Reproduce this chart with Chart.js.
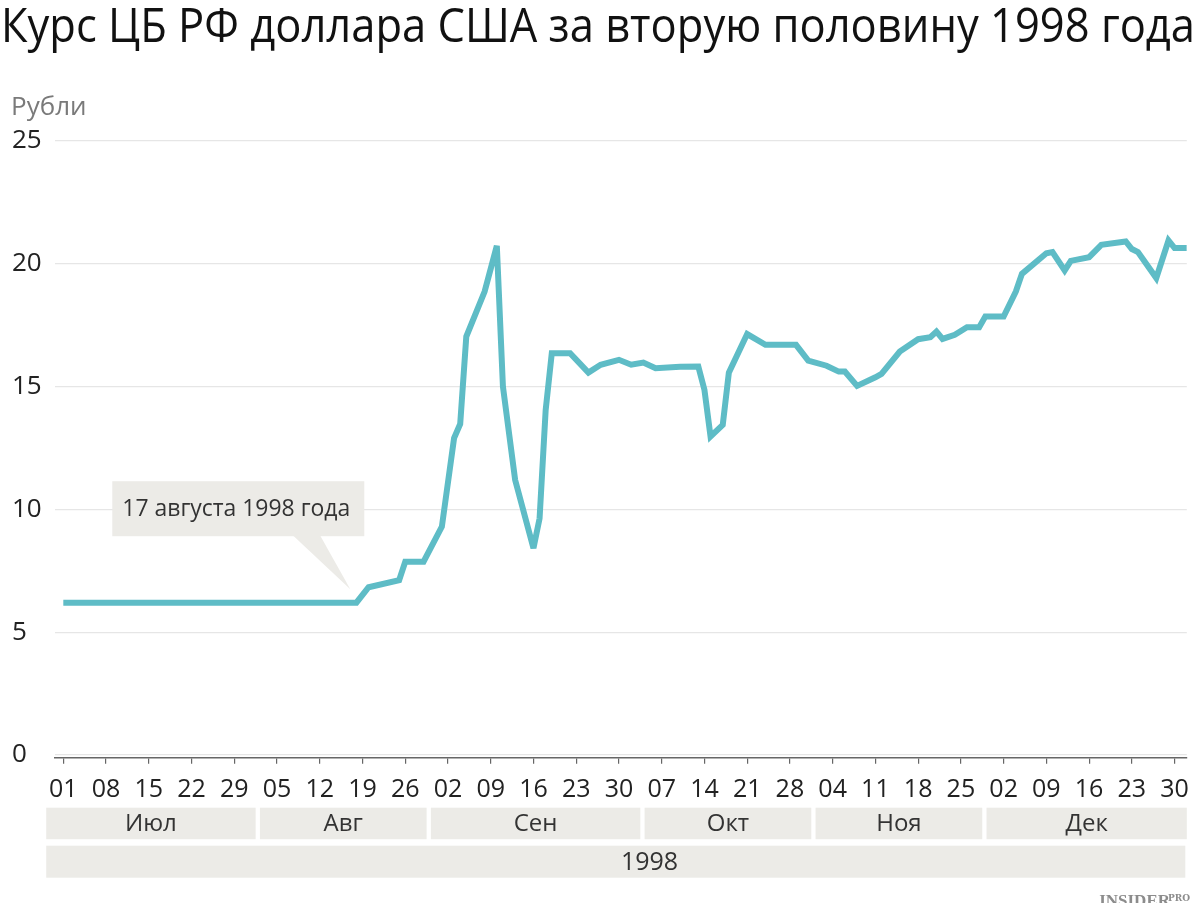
<!DOCTYPE html>
<html lang="ru">
<head>
<meta charset="utf-8">
<title>Курс ЦБ РФ доллара США за вторую половину 1998 года</title>
<script src="https://cdn.jsdelivr.net/npm/chart.js@4.4.1/dist/chart.umd.min.js"></script>
<style>
  html, body { margin: 0; padding: 0; background: #fff; }
  #wrap { width: 1200px; height: 903px; position: relative; }
</style>
</head>
<body>
<div id="wrap"><canvas id="myChart"></canvas></div>
<script>
const chartTitle = 'Курс ЦБ РФ доллара США за вторую половину 1998 года';
const unitLabel = 'Рубли';
const calloutText = '17 августа 1998 года';
const calloutDay = 47;      // 17.08.1998
const calloutValue = 6.75;

// day index from 01.07.1998 (0) to 01.01.1999 (184)
const days = [0, 7, 14, 21, 28, 35, 42, 48, 50, 55, 56, 59, 62, 64, 65, 66, 69, 71, 72, 74,
  77, 78, 79, 80, 83, 86, 88, 91, 93, 95, 97, 101, 104, 105, 106, 108, 109, 112, 115, 120,
  122, 125, 127, 128, 130, 133, 134, 137, 140, 142, 143, 144, 146, 148, 150, 151, 154, 156, 157, 161,
  162, 164, 165, 168, 170, 174, 175, 176, 179, 181, 182, 184];
const rates = [6.2, 6.2, 6.2, 6.2, 6.2, 6.2, 6.2, 6.2, 6.83, 7.12, 7.87, 7.87, 9.3, 12.9, 13.48, 17.04, 18.87, 20.73, 15.0, 11.2,
  8.42, 9.63, 14.05, 16.36, 16.36, 15.57, 15.89, 16.09, 15.89, 15.98, 15.75, 15.81, 15.82, 14.87, 12.97, 13.44, 15.57, 17.14, 16.7, 16.7,
  16.06, 15.85, 15.61, 15.61, 15.03, 15.38, 15.52, 16.43, 16.93, 17.01, 17.24, 16.94, 17.11, 17.42, 17.42, 17.85, 17.85, 18.87, 19.59, 20.43,
  20.48, 19.73, 20.12, 20.27, 20.77, 20.91, 20.6, 20.48, 19.42, 20.95, 20.64, 20.64];

const tickDays = [0, 7, 14, 21, 28, 35, 42, 49, 56, 63, 70, 77, 84, 91, 98, 105, 112, 119, 126, 133, 140, 147, 154, 161, 168, 175, 182];
const tickLabels = ['01', '08', '15', '22', '29', '05', '12', '19', '26', '02', '09', '16', '23', '30', '07', '14', '21', '28', '04', '11', '18', '25', '02', '09', '16', '23', '30'];
const months = ['Июл', 'Авг', 'Сен', 'Окт', 'Ноя', 'Дек'];
const monthTickCount = [5, 4, 5, 4, 4, 5];
const yearLabel = '1998';
const yTicks = [0, 5, 10, 15, 20, 25];

const lineColor = '#5ebcc6';
const bandColor = '#ecebe7';
const fontFamily = '"Open Sans", "Noto Sans", sans-serif';

Chart.defaults.font.family = fontFamily;

const decorPlugin = {
    id: 'decor',
    beforeDatasetsDraw(chart) {
        const ctx = chart.ctx;
        const xs = chart.scales.x, ys = chart.scales.y;
        const px = xs.getPixelForValue(calloutDay);
        const py = ys.getPixelForValue(calloutValue);
        ctx.save();
        ctx.fillStyle = bandColor;
        ctx.fillRect(px - 238, py - 108, 252, 55);
        ctx.beginPath();
        ctx.moveTo(px - 57, py - 53.5);
        ctx.lineTo(px - 30, py - 53.5);
        ctx.lineTo(px, py);
        ctx.closePath();
        ctx.fill();
        ctx.fillStyle = '#333';
        ctx.font = '24px ' + fontFamily;
        ctx.textAlign = 'center';
        ctx.textBaseline = 'middle';
        ctx.fillText(calloutText, px - 114, py - 80, 228);
        ctx.restore();
        // sharp corners, but not endless spikes
        ctx.miterLimit = 4;
    },
    afterDraw(chart) {
        const ctx = chart.ctx;
        const xs = chart.scales.x;
        const area = chart.chartArea;
        ctx.save();

        // title
        ctx.fillStyle = '#111';
        ctx.font = '47px ' + fontFamily;
        ctx.textBaseline = 'alphabetic';
        ctx.textAlign = 'left';
        const tw = ctx.measureText(chartTitle).width;
        const k = Math.min(1, 1194 / tw);
        ctx.save();
        ctx.translate(1, 42);
        ctx.scale(k, 1);
        ctx.fillText(chartTitle, 0, 0);
        ctx.restore();

        // unit
        ctx.fillStyle = '#7a7a7a';
        ctx.font = '26px ' + fontFamily;
        ctx.fillText(unitLabel, 11, 115, 76);

        // month bands
        const slot = xs.getPixelForValue(7) - xs.getPixelForValue(0);
        const b = area.bottom;
        let i0 = 0;
        let bandsLeft = null;
        ctx.font = '24px ' + fontFamily;
        ctx.textAlign = 'center';
        ctx.textBaseline = 'middle';
        months.forEach((m, i) => {
            const first = tickDays[i0];
            const last = tickDays[i0 + monthTickCount[i] - 1];
            const l = xs.getPixelForValue(first) - slot * 0.4;
            const r = Math.min(xs.getPixelForValue(last) + slot * 0.5, area.right);
            if (bandsLeft === null) bandsLeft = l;
            ctx.fillStyle = bandColor;
            ctx.fillRect(l, b + 50, r - l, 31.5);
            ctx.fillStyle = '#333';
            ctx.fillText(m, (l + r) / 2, b + 66);
            i0 += monthTickCount[i];
        });

        // year band
        const yr = area.right - 1.5;
        ctx.fillStyle = bandColor;
        ctx.fillRect(bandsLeft, b + 88, yr - bandsLeft, 32);
        ctx.fillStyle = '#333';
        ctx.font = '25px ' + fontFamily;
        ctx.fillText(yearLabel, xs.getPixelForValue(96), b + 105);

        // watermark
        ctx.textAlign = 'right';
        ctx.textBaseline = 'alphabetic';
        ctx.fillStyle = '#8c8c8c';
        ctx.font = 'bold 9px "DejaVu Serif", serif';
        ctx.fillText('PRO', 1190, 901);
        ctx.font = 'bold 17px "Liberation Serif", serif';
        ctx.fillText('INSIDER', 1170, 906);
        ctx.restore();
    }
};

const ctx = document.getElementById('myChart').getContext('2d');
const points = days.map((d, i) => ({ x: d, y: rates[i] }));

new Chart(ctx, {
    type: 'line',
    data: {
        datasets: [{
            label: 'USD/RUB',
            data: points,
            borderColor: lineColor,
            borderWidth: 6,
            borderJoinStyle: 'miter',
            pointRadius: 0,
            tension: 0,
            fill: false
        }]
    },
    options: {
        responsive: true,
        maintainAspectRatio: false,
        animation: false,
        layout: { padding: { left: 12, top: 141, right: 10.4, bottom: 0 } },
        plugins: {
            legend: { display: false },
            tooltip: { enabled: false },
            title: { display: false }
        },
        scales: {
            x: {
                type: 'linear',
                min: -1.36,
                max: 184,
                afterBuildTicks: s => { s.ticks = tickDays.map(v => ({ value: v })); },
                afterFit: s => { s.height = 145.3; },
                grid: { drawOnChartArea: false, drawTicks: true, tickLength: 6, color: '#666', lineWidth: 1.2 },
                border: { display: true, color: '#666', width: 1.5 },
                ticks: {
                    autoSkip: false,
                    maxRotation: 0,
                    padding: 11,
                    color: '#222',
                    font: { size: 25 },
                    callback: (v, i) => tickLabels[i]
                }
            },
            y: {
                min: -0.11,
                max: 25,
                afterBuildTicks: s => { s.ticks = yTicks.map(v => ({ value: v })); },
                afterFit: s => { s.width = 43; },
                grid: { color: '#e6e6e6', lineWidth: 1.2, drawTicks: false },
                border: { display: false },
                ticks: { crossAlign: 'far', padding: 0, color: '#222', font: { size: 26 } }
            }
        }
    },
    plugins: [decorPlugin]
});
</script>
</body>
</html>
